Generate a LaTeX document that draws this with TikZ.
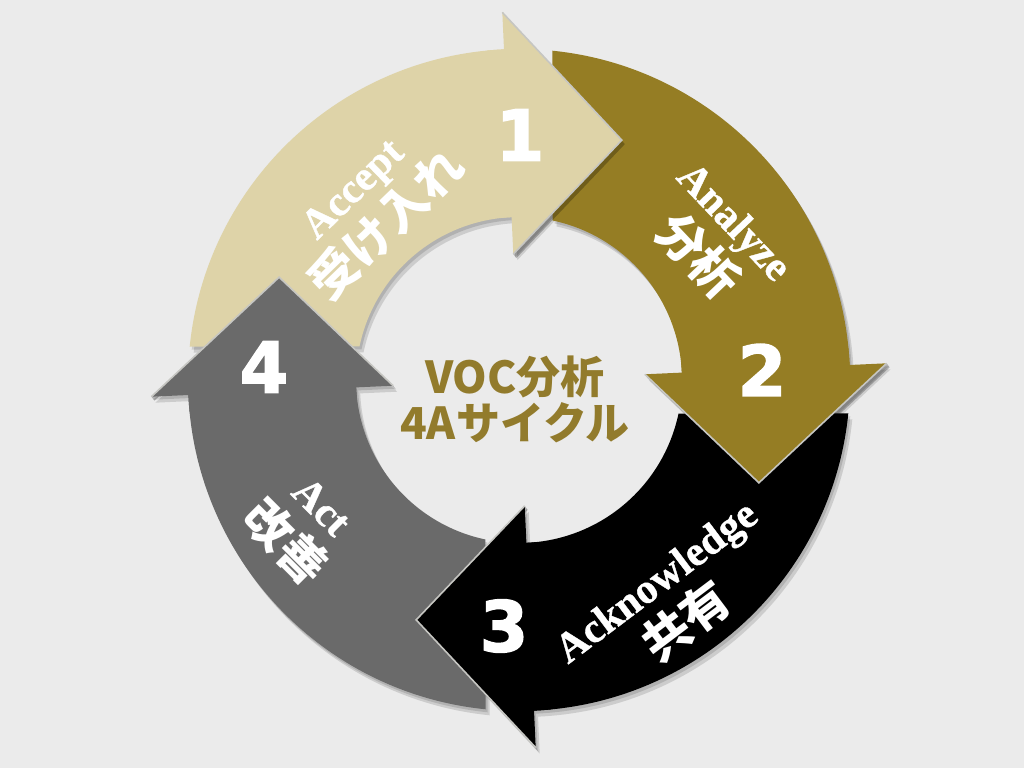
\documentclass[tikz,border=0pt]{standalone}
\usepackage{fontspec}
\setmainfont{Liberation Serif}
\newfontfamily\jpfont{Noto Sans CJK JP}
\newfontfamily\numfont{DejaVu Sans Bold}[FakeBold=2.2]
\newfontfamily\latfont{Liberation Serif Bold}[FakeBold=0.9]
\usetikzlibrary{calc}
\definecolor{bgc}{HTML}{EBEBEB}
\definecolor{cA}{HTML}{DED3A8}
\definecolor{cB}{HTML}{957D24}
\definecolor{cC}{HTML}{000000}
\definecolor{cD}{HTML}{6A6A6A}
\definecolor{ctitle}{HTML}{927B2C}
\definecolor{edgec}{HTML}{C6C6C2}
% #1 = nominal direction of the head (90,0,-90,-180)
\newcommand\bodypath[1]{(#1+84.2:331) arc[start angle=#1+84.2, end angle=#1+2.6, radius=331] -- (#1+2.6:163) arc[start angle=#1+2.6, end angle=#1+78.1, radius=163] -- cycle}
\newcommand\fullpath[1]{(#1+84.2:331) arc[start angle=#1+84.2, end angle=#1+2.6, radius=331] -- (#1+2.6:368) -- (#1-23.2:261) -- (#1+2.6:126) -- (#1+2.6:163) arc[start angle=#1+2.6, end angle=#1+78.1, radius=163] -- cycle}
\newcommand\headpath[1]{(#1+2.6:368) -- (#1-23.2:261) -- (#1+2.6:126) -- (#1+2.6:163) arc[start angle=#1+2.6, end angle=#1+5.6, radius=163] -- (#1+5.6:331) arc[start angle=#1+5.6, end angle=#1+2.6, radius=331] -- cycle}
\newcommand\headshadow[1]{(#1+2.6:368) -- (#1-23.2:261) -- (#1+2.6:126) -- ([shift={(3,-4)}]#1+2.6:126) -- ([shift={(3,-4)}]#1-23.2:261) -- ([shift={(3,-4)}]#1+2.6:368) -- cycle}
\newcommand\headedge[1]{(#1+2.6:368) -- (#1-23.2:261) -- (#1+2.6:126)}
\tikzset{
  shad/.style={black, opacity=0.13},
  edgeline/.style={draw=edgec, line width=1.6pt, line join=miter},
  numsty/.style={text=white, font=\numfont\fontsize{70}{70}\selectfont, inner sep=0pt},
  lblsty/.style={text=white, align=center, inner sep=0pt,
     font=\jpfont\bfseries\fontsize{48}{54}\selectfont},
  titlesty/.style={text=ctitle, font=\jpfont\bfseries\fontsize{44}{46}\selectfont, align=center, inner sep=0pt}
}
\newcommand\lat[1]{{\latfont\fontsize{42}{42}\selectfont #1}}
\begin{document}
\begin{tikzpicture}[x=1pt,y=1pt]
\fill[bgc] (0,0) rectangle (1024,768);
\useasboundingbox (0,0) rectangle (1024,768);
\begin{scope}[shift={(519,388)}]
  % soft shadows of whole arrows
  \foreach \h in {90,0,-90,-180}{
    \fill[shad, shift={(2,-3)}] \fullpath{\h};
    \fill[shad, shift={(4,-6)}] \fullpath{\h};
  }
  % bodies
  \fill[cA] \bodypath{90};
  \fill[cB] \bodypath{0};
  \fill[cC] \bodypath{-90};
  \fill[cD] \bodypath{-180};
  % heads
  \foreach \h/\c in {90/cA,0/cB,-90/cC,-180/cD}{
    \fill[black, opacity=0.25] \headshadow{\h};
    \fill[\c] \headpath{\h};
    \draw[edgeline] \headedge{\h};
  }
\end{scope}
% numbers
\node[numsty] (n1) at (520,633) {1};
\node[numsty] (n2) at (762,398) {2};
\node[numsty] (n3) at (504,142) {3};
\node[numsty] (n4) at (264,401) {4};
% labels
\node[lblsty, rotate=44] (l1) at (372,559) {\lat{Accept}\\受け入れ};
\node[lblsty, rotate=-46.5] (l2) at (714,527) {\lat{Analyze}\\分析};
\node[lblsty, rotate=37] (l3) at (673,164) {\lat{Acknowledge}\\共有};
\node[lblsty, rotate=-45] (l4) at (301,241) {\lat{Act}\\改善};
% centre title
\node[titlesty] (title) at (515,369) {VOC分析\\4Aサイクル};
\end{tikzpicture}
\end{document}
